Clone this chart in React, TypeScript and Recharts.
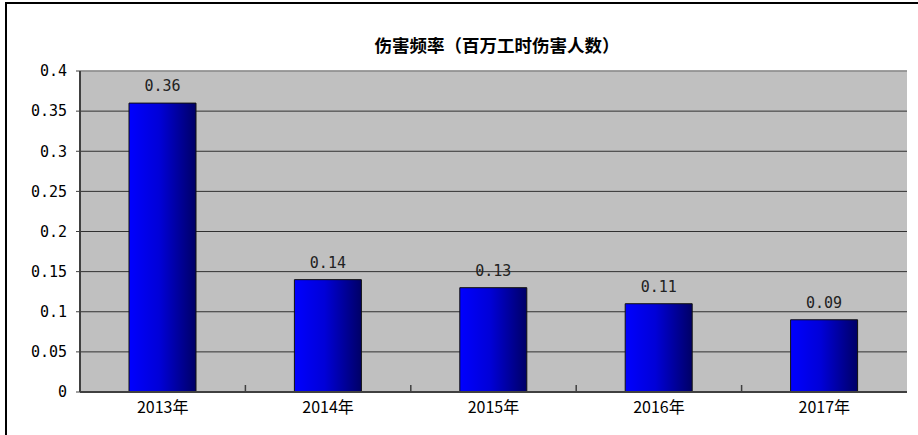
import { BarChart, Bar, XAxis, YAxis, CartesianGrid, ReferenceLine, LabelList } from 'recharts';

const years = ['2013年', '2014年', '2015年', '2016年', '2017年'];
const rates = [0.36, 0.14, 0.13, 0.11, 0.09];
const yTicks = [0, 0.05, 0.1, 0.15, 0.2, 0.25, 0.3, 0.35, 0.4];

const MONO = '"DejaVu Sans Mono", "Liberation Mono", monospace';
const SANS = '"Noto Sans CJK SC", "Noto Sans", sans-serif';

const X_TICK_SIZE = 6;
const X_TICK_MARGIN = 4;

// category label plus the small upward tick at the right edge of its band
const YearTick = (props: any) => {
  const { x, y, payload, index, width, visibleTicksCount } = props;
  const band = width / visibleTicksCount;
  const axisY = y - X_TICK_SIZE - X_TICK_MARGIN;
  const edge = x + band / 2;
  return (
    <g>
      {index < visibleTicksCount - 1 && (
        <line x1={edge} x2={edge} y1={axisY} y2={axisY - 7} stroke="#404040" strokeWidth={1.5} />
      )}
      <text x={x} y={y} dy="0.71em" textAnchor="middle" fill="#000" fontSize={16} fontFamily={SANS}>
        {payload.value}
      </text>
    </g>
  );
};

const App = () => {
  const data = years.map((year, i) => ({ year, rate: rates[i] }));

  return (
    <div style={{ position: 'absolute', left: 0, top: 0, width: 918, height: 435, background: '#fff' }}>
      {/* outer chart frame */}
      <div
        style={{
          position: 'absolute',
          left: 5,
          top: 2,
          width: 913,
          height: 433,
          borderLeft: '2px solid #000',
          borderTop: '2px solid #000',
          boxSizing: 'border-box',
        }}
      />
      <div
        style={{
          position: 'absolute',
          left: 297,
          width: 400,
          top: 33,
          textAlign: 'center',
          fontFamily: SANS,
          fontWeight: 700,
          fontSize: 17.5,
          lineHeight: '24px',
          color: '#000',
        }}
      >
        伤害频率（百万工时伤害人数）
      </div>
      <div style={{ position: 'absolute', left: 0, top: 0 }}>
        <BarChart
          width={918}
          height={435}
          data={data}
          margin={{ top: 71, right: 11, bottom: 0, left: 0 }}
        >
          <defs>
            <linearGradient id="barFill" x1="0" y1="0" x2="1" y2="0">
              <stop offset="0%" stopColor="#0000ff" />
              <stop offset="45%" stopColor="#0000d8" />
              <stop offset="100%" stopColor="#000066" />
            </linearGradient>
          </defs>
          <CartesianGrid
            vertical={false}
            fill="#c0c0c0"
            fillOpacity={1}
            stroke="#303030"
            strokeWidth={1}
          />
          <XAxis
            dataKey="year"
            height={43}
            interval={0}
            axisLine={{ stroke: '#404040', strokeWidth: 2 }}
            tickLine={false}
            tickSize={X_TICK_SIZE}
            tickMargin={X_TICK_MARGIN}
            tick={<YearTick />}
          />
          <YAxis
            width={80}
            domain={[0, 0.4]}
            ticks={yTicks}
            interval={0}
            axisLine={{ stroke: '#404040', strokeWidth: 2 }}
            tickLine={{ stroke: '#404040' }}
            tickSize={4}
            tickMargin={9}
            tick={{ fill: '#000', fontSize: 15, fontFamily: MONO }}
          />
          <YAxis
            yAxisId="r"
            orientation="right"
            width={0}
            domain={[0, 0.4]}
            tick={false}
            tickLine={false}
            axisLine={{ stroke: '#909090', strokeWidth: 1.5 }}
          />
          <ReferenceLine y={0.4} stroke="#a0a0a0" strokeWidth={1.5} />
          <Bar
            dataKey="rate"
            barSize={67}
            fill="url(#barFill)"
            stroke="#101010"
            strokeWidth={1}
            isAnimationActive={false}
          >
            <LabelList
              dataKey="rate"
              position="top"
              offset={12}
              fill="#222"
              fontSize={15}
              fontFamily={MONO}
            />
          </Bar>
        </BarChart>
      </div>
    </div>
  );
};

export default App;
